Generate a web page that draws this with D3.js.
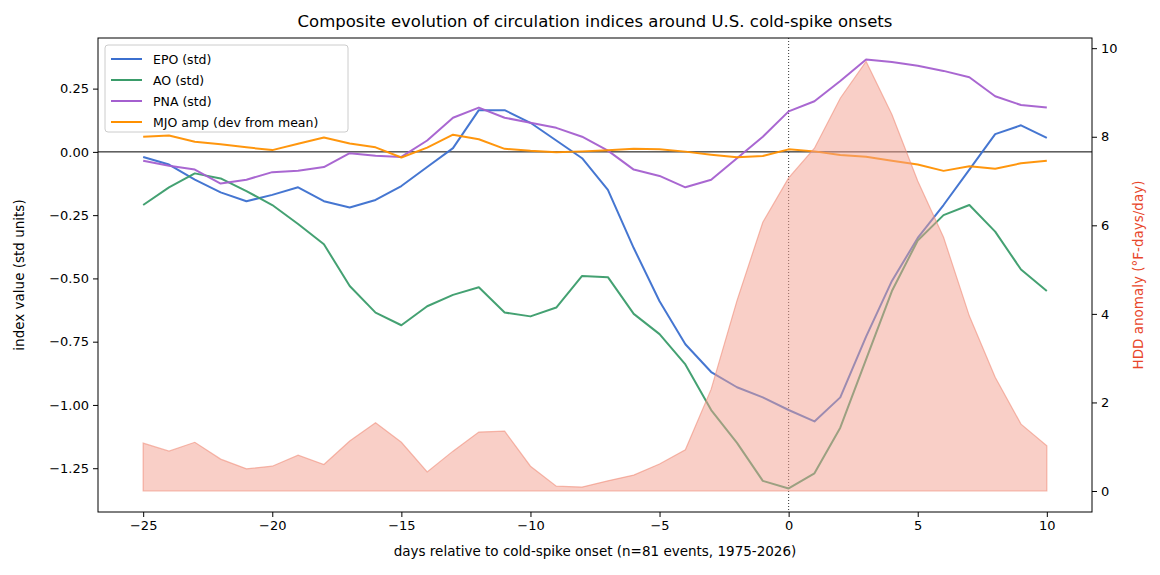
<!DOCTYPE html>
<html><head><meta charset="utf-8">
<script src="https://cdn.jsdelivr.net/npm/d3@7"></script>
<style>body{margin:0;background:#fff;font-family:"DejaVu Sans",sans-serif}</style>
</head><body><svg id="c" width="1160" height="575"></svg>
<script>
// days relative to onset
const days = d3.range(-25, 11);
const epo = [-0.02,-0.05,-0.11,-0.16,-0.195,-0.17,-0.14,-0.195,-0.22,-0.19,-0.135,-0.06,0.015,0.165,0.165,0.115,0.045,-0.025,-0.15,-0.38,-0.59,-0.76,-0.87,-0.93,-0.97,-1.02,-1.065,-0.97,-0.73,-0.51,-0.34,-0.21,-0.07,0.07,0.105,0.055];
const ao = [-0.21,-0.14,-0.085,-0.105,-0.155,-0.21,-0.285,-0.365,-0.53,-0.635,-0.685,-0.61,-0.565,-0.535,-0.635,-0.65,-0.615,-0.49,-0.495,-0.64,-0.72,-0.84,-1.02,-1.15,-1.3,-1.33,-1.27,-1.09,-0.82,-0.55,-0.35,-0.25,-0.21,-0.315,-0.465,-0.55];
const pna = [-0.035,-0.055,-0.07,-0.125,-0.11,-0.08,-0.075,-0.06,-0.005,-0.015,-0.02,0.045,0.135,0.175,0.135,0.115,0.095,0.06,0.005,-0.07,-0.095,-0.14,-0.11,-0.025,0.06,0.16,0.2,0.28,0.365,0.355,0.34,0.32,0.295,0.22,0.185,0.175];
const mjo = [0.06,0.065,0.04,0.03,0.018,0.007,0.032,0.057,0.033,0.018,-0.022,0.017,0.068,0.05,0.012,0.004,-0.001,0.002,0.006,0.012,0.01,0.001,-0.011,-0.021,-0.016,0.01,0.002,-0.012,-0.019,-0.035,-0.05,-0.075,-0.057,-0.067,-0.045,-0.035];
const hdd = [1.08,0.9,1.1,0.72,0.5,0.56,0.81,0.6,1.13,1.54,1.1,0.43,0.9,1.33,1.35,0.56,0.11,0.09,0.23,0.36,0.61,0.93,2.3,4.3,6.07,7.07,7.74,8.87,9.7,8.5,7.0,5.73,3.95,2.57,1.51,1.02];

const series = [
  {name:"EPO (std)", vals:epo, color:"#3b6fcf"},
  {name:"AO (std)", vals:ao, color:"#3a9c6a"},
  {name:"PNA (std)", vals:pna, color:"#a45fcf"},
  {name:"MJO amp (dev from mean)", vals:mjo, color:"#ff9000"}
];

const L=98, R=1092, T=38, B=512;
const svg = d3.select("#c");
const x = d3.scaleLinear().domain([-26.75, 11.75]).range([L, R]);
const y = d3.scaleLinear().domain([-1.423, 0.45]).range([B, T]);
const y2 = d3.scaleLinear().domain([-0.474, 10.23]).range([B, T]);

// zero line and onset line
svg.append("line").attr("x1",L).attr("x2",R).attr("y1",y(0)).attr("y2",y(0)).attr("stroke","#000").attr("stroke-width",1);
svg.append("line").attr("x1",x(0)).attr("x2",x(0)).attr("y1",T).attr("y2",B).attr("stroke","#000").attr("stroke-width",0.8).attr("stroke-dasharray","1,2");

const line = d3.line().x(d=>x(d[0])).y(d=>y(d[1]));
series.forEach(s=>{
  svg.append("path").datum(days.map((d,i)=>[d,s.vals[i]]))
    .attr("d",line).attr("fill","none").attr("stroke",s.color)
    .attr("stroke-width",2).attr("stroke-opacity",0.95).attr("stroke-linejoin","round");
});

// HDD area (secondary axis, drawn on top)
svg.append("path").datum(days)
  .attr("d", d3.area().x(d=>x(d)).y0(y2(0)).y1((d,i)=>y2(hdd[i])))
  .attr("fill","#f4a08f").attr("fill-opacity",0.5)
  .attr("stroke","#f08c78").attr("stroke-opacity",0.6).attr("stroke-width",1.2);

// axes
const fs = "13px";
const gx = svg.append("g").attr("transform",`translate(0,${B})`)
  .call(d3.axisBottom(x).tickValues([-25,-20,-15,-10,-5,0,5,10]).tickSize(5).tickPadding(4).tickFormat(d=>d<0?"\u2212"+(-d):d));
const gy = svg.append("g").attr("transform",`translate(${L},0)`)
  .call(d3.axisLeft(y).tickValues([-1.25,-1,-0.75,-0.5,-0.25,0,0.25]).tickSize(5).tickPadding(4)
  .tickFormat(d=>(d<0?"\u2212":"")+Math.abs(d).toFixed(2)));
const gy2 = svg.append("g").attr("transform",`translate(${R},0)`)
  .call(d3.axisRight(y2).tickValues([0,2,4,6,8,10]).tickSize(5).tickPadding(4));
[gx,gy,gy2].forEach(g=>{
  g.select(".domain").remove();
  g.selectAll("text").attr("font-size",fs).attr("font-family","DejaVu Sans").attr("fill","#000");
  g.selectAll("line").attr("stroke","#000");
});
svg.append("rect").attr("x",L).attr("y",T).attr("width",R-L).attr("height",B-T).attr("fill","none").attr("stroke","#000").attr("stroke-width",1);

// labels
svg.append("text").attr("x",(L+R)/2).attr("y",27).attr("text-anchor","middle").attr("font-size","16.5px").text("Composite evolution of circulation indices around U.S. cold-spike onsets");
svg.append("text").attr("x",(L+R)/2).attr("y",556).attr("text-anchor","middle").attr("font-size","13.5px").text("days relative to cold-spike onset (n=81 events, 1975-2026)");
svg.append("text").attr("transform",`translate(24,${(T+B)/2}) rotate(-90)`).attr("text-anchor","middle").attr("font-size","13.5px").text("index value (std units)");
svg.append("text").attr("transform",`translate(1143,${(T+B)/2}) rotate(-90)`).attr("text-anchor","middle").attr("font-size","13.5px").attr("fill","#e8462a").text("HDD anomaly (\u00b0F-days/day)");

// legend
const lg = svg.append("g").attr("transform","translate(105,45)");
lg.append("rect").attr("width",243).attr("height",87).attr("rx",3).attr("fill","#fff").attr("fill-opacity",0.8).attr("stroke","#ccc");
series.forEach((s,i)=>{
  const yy = 14+i*21;
  lg.append("line").attr("x1",6).attr("x2",37).attr("y1",yy).attr("y2",yy).attr("stroke",s.color).attr("stroke-width",2);
  lg.append("text").attr("x",48).attr("y",yy+4.5).attr("font-size","12.5px").text(s.name);
});
</script></body></html>
